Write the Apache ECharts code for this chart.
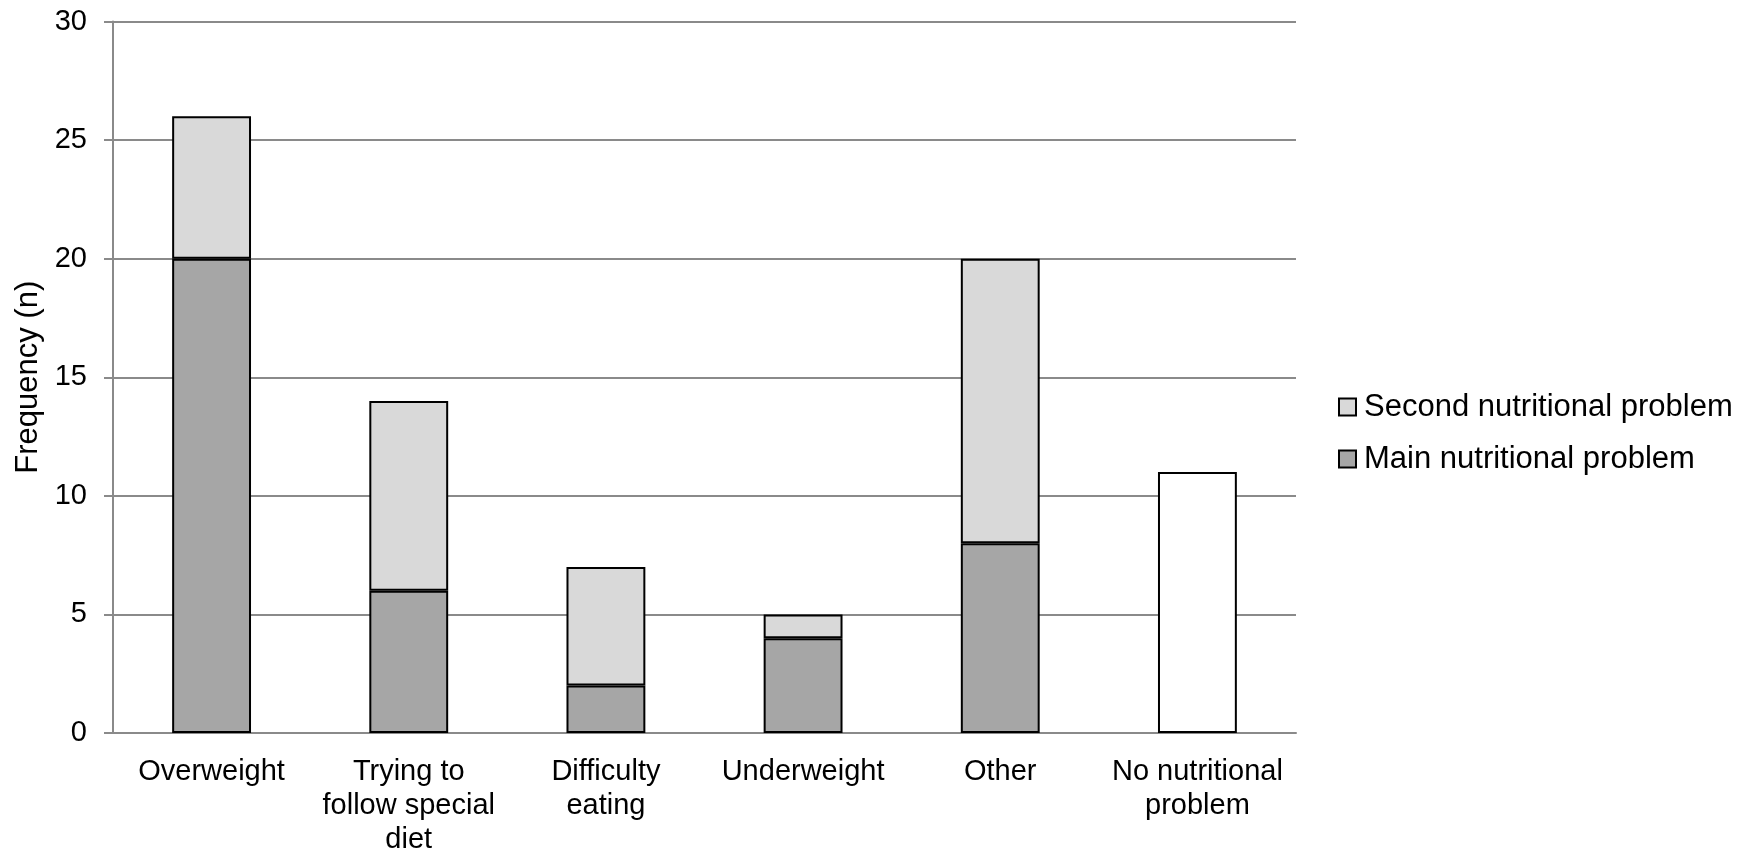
<!DOCTYPE html>
<html>
<head>
<meta charset="utf-8">
<script src="https://cdn.jsdelivr.net/npm/echarts@6/dist/echarts.min.js"></script>
<style>
  html, body { margin: 0; padding: 0; background: #fff; }
  #main { width: 1757px; height: 852px; }
</style>
</head>
<body>
<div id="main"></div>
<script>
// data
var categories = ['Overweight', 'Trying to\nfollow special\ndiet', 'Difficulty\neating', 'Underweight', 'Other', 'No nutritional\nproblem'];
var mainProblem = [20, 6, 2, 4, 8, null];
var secondProblem = [6, 8, 5, 1, 12, null];
var noProblem = [null, null, null, null, null, 11];
var yTicks = [0, 5, 10, 15, 20, 25, 30];

var myChart = echarts.init(document.getElementById('main'));

var font = 'Liberation Sans, Arial, sans-serif';
var axisGray = '#8a8a8a';

var option = {
  animation: false,
  grid: { left: 113, right: 461, top: 21.5, bottom: 119, outerBoundsMode: 'none' },
  legend: {
    data: ['Second nutritional problem', 'Main nutritional problem'],
    orient: 'vertical',
    left: 1338,
    top: 390,
    padding: 0,
    icon: 'rect',
    itemWidth: 17,
    itemHeight: 17,
    itemGap: 18,
    textStyle: { fontFamily: font, fontSize: 31, lineHeight: 34, color: '#000', padding: [0, 0, 0, 3] }
  },
  xAxis: {
    type: 'category',
    data: categories,
    axisLine: { lineStyle: { color: axisGray, width: 2 } },
    axisTick: { length: 8, lineStyle: { color: axisGray, width: 2 } },
    axisLabel: { fontFamily: font, fontSize: 29, color: '#000', lineHeight: 34, margin: 22, interval: 0 }
  },
  yAxis: {
    type: 'value',
    min: yTicks[0],
    max: yTicks[yTicks.length - 1],
    interval: 5,
    name: 'Frequency (n)',
    nameLocation: 'middle',
    nameGap: 66,
    nameTextStyle: { fontFamily: font, fontSize: 31, color: '#000' },
    axisLine: { show: true, lineStyle: { color: axisGray, width: 2 } },
    axisTick: { show: true, length: 9, lineStyle: { color: axisGray, width: 2 } },
    axisLabel: { fontFamily: font, fontSize: 29, color: '#000', margin: 26 },
    splitLine: { lineStyle: { color: axisGray, width: 2 } }
  },
  series: [
    {
      name: 'Main nutritional problem',
      type: 'bar',
      stack: 'total',
      barWidth: '40%',
      data: mainProblem,
      itemStyle: { color: '#a6a6a6', borderColor: '#000', borderWidth: 2 }
    },
    {
      name: 'Second nutritional problem',
      type: 'bar',
      stack: 'total',
      barWidth: '40%',
      data: secondProblem,
      itemStyle: { color: '#d9d9d9', borderColor: '#000', borderWidth: 2 }
    },
    {
      name: 'No nutritional problem',
      type: 'bar',
      stack: 'total',
      barWidth: '40%',
      data: noProblem,
      itemStyle: { color: '#fff', borderColor: '#000', borderWidth: 2 }
    }
  ]
};

myChart.setOption(option);
</script>
</body>
</html>
